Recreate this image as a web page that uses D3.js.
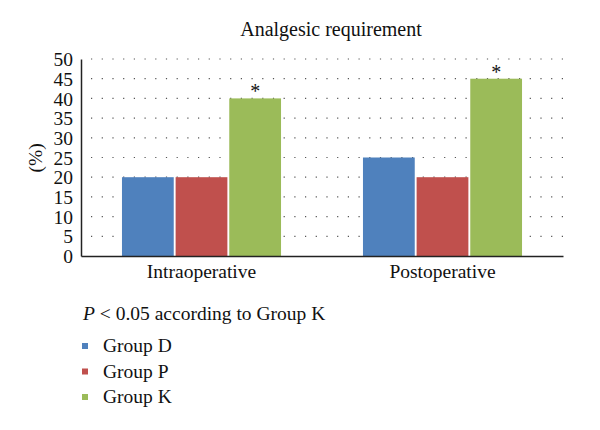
<!DOCTYPE html>
<html>
<head>
<meta charset="utf-8">
<script src="https://cdn.jsdelivr.net/npm/d3@7"></script>
<style>
  body { margin: 0; background: #fff; }
  text { font-family: "Liberation Serif", "DejaVu Serif", serif; fill: #111; }
</style>
</head>
<body>
<div id="chart"></div>
<script>
// data
const categories = ["Intraoperative", "Postoperative"];
const groups = ["Group D", "Group P", "Group K"];
const groupD = [20, 25];
const groupP = [20, 20];
const groupK = [40, 45];
const yTicks = [0, 5, 10, 15, 20, 25, 30, 35, 40, 45, 50];
const starred = "Group K";

const colors = ["#4f81bd", "#c0504d", "#9bbb59"];
const series = [groupD, groupP, groupK];

const svg = d3.select("#chart")
  .append("svg")
  .attr("width", 600)
  .attr("height", 430);

const plotLeft = 81, plotRight = 563, plotTop = 59, plotBottom = 256;
const fs = "19.5px";

let y = d3.scaleLinear()
  .domain([0, 50])
  .range([plotBottom, plotTop]);

let x0 = d3.scaleBand()
  .domain(categories)
  .range([plotLeft, plotRight])
  .paddingInner(0.34)
  .paddingOuter(0.17);

let x1 = d3.scaleBand()
  .domain(groups)
  .range([0, x0.bandwidth()])
  .paddingInner(0.035);

// dotted grid lines
svg.append("g")
  .selectAll("line")
  .data(yTicks.filter(t => t > 0))
  .join("line")
  .attr("x1", plotLeft + 10)
  .attr("x2", plotRight)
  .attr("y1", d => y(d))
  .attr("y2", d => y(d))
  .attr("stroke", "#555")
  .attr("stroke-width", 1.2)
  .attr("stroke-dasharray", "1.2,9.5");

// bars
const barData = [];
categories.forEach((c, i) => {
  groups.forEach((g, j) => {
    barData.push({ cat: c, group: g, value: series[j][i], color: colors[j] });
  });
});

svg.append("g")
  .selectAll("rect")
  .data(barData)
  .join("rect")
  .attr("x", d => x0(d.cat) + x1(d.group))
  .attr("y", d => y(d.value))
  .attr("width", x1.bandwidth())
  .attr("height", d => y(0) - y(d.value))
  .attr("fill", d => d.color);

// asterisks over Group K
svg.append("g")
  .selectAll("text")
  .data(barData.filter(d => d.group === starred))
  .join("text")
  .attr("x", d => x0(d.cat) + x1(d.group) + x1.bandwidth() / 2)
  .attr("y", d => y(d.value) - 0)
  .attr("text-anchor", "middle")
  .style("font-size", "20px")
  .text("*");

// y axis
const yAxis = svg.append("g")
  .attr("transform", `translate(${plotLeft},0)`)
  .call(d3.axisLeft(y).tickValues(yTicks).tickSize(0).tickPadding(8));
yAxis.select(".domain").attr("stroke", "#222").attr("stroke-width", 1.5);
yAxis.selectAll("text").style("font-size", fs).attr("dy", "0.34em");

// x axis
const xAxis = svg.append("g")
  .attr("transform", `translate(0,${plotBottom})`)
  .call(d3.axisBottom(x0).tickSize(0).tickPadding(8));
xAxis.select(".domain").attr("stroke", "#222").attr("stroke-width", 1.5);
xAxis.selectAll("text").style("font-size", fs);

// title
svg.append("text")
  .attr("x", 331)
  .attr("y", 36)
  .attr("text-anchor", "middle")
  .style("font-size", "20px")
  .text("Analgesic requirement");

// y label
svg.append("text")
  .attr("transform", "translate(42,158) rotate(-90)")
  .attr("text-anchor", "middle")
  .style("font-size", fs)
  .text("(%)");

// note
const note = svg.append("text")
  .attr("x", 83)
  .attr("y", 320)
  .style("font-size", fs);
note.append("tspan").style("font-style", "italic").text("P");
note.append("tspan").text(" < 0.05 according to Group K");

// legend
const legend = svg.append("g")
  .selectAll("g")
  .data(groups)
  .join("g")
  .attr("transform", (d, i) => `translate(82,${346 + i * 25.5})`);

legend.append("rect")
  .attr("x", 0)
  .attr("y", -3)
  .attr("width", 6)
  .attr("height", 6)
  .attr("fill", (d, i) => colors[i]);

legend.append("text")
  .attr("x", 21)
  .attr("y", 6)
  .style("font-size", fs)
  .text(d => d);
</script>
</body>
</html>
